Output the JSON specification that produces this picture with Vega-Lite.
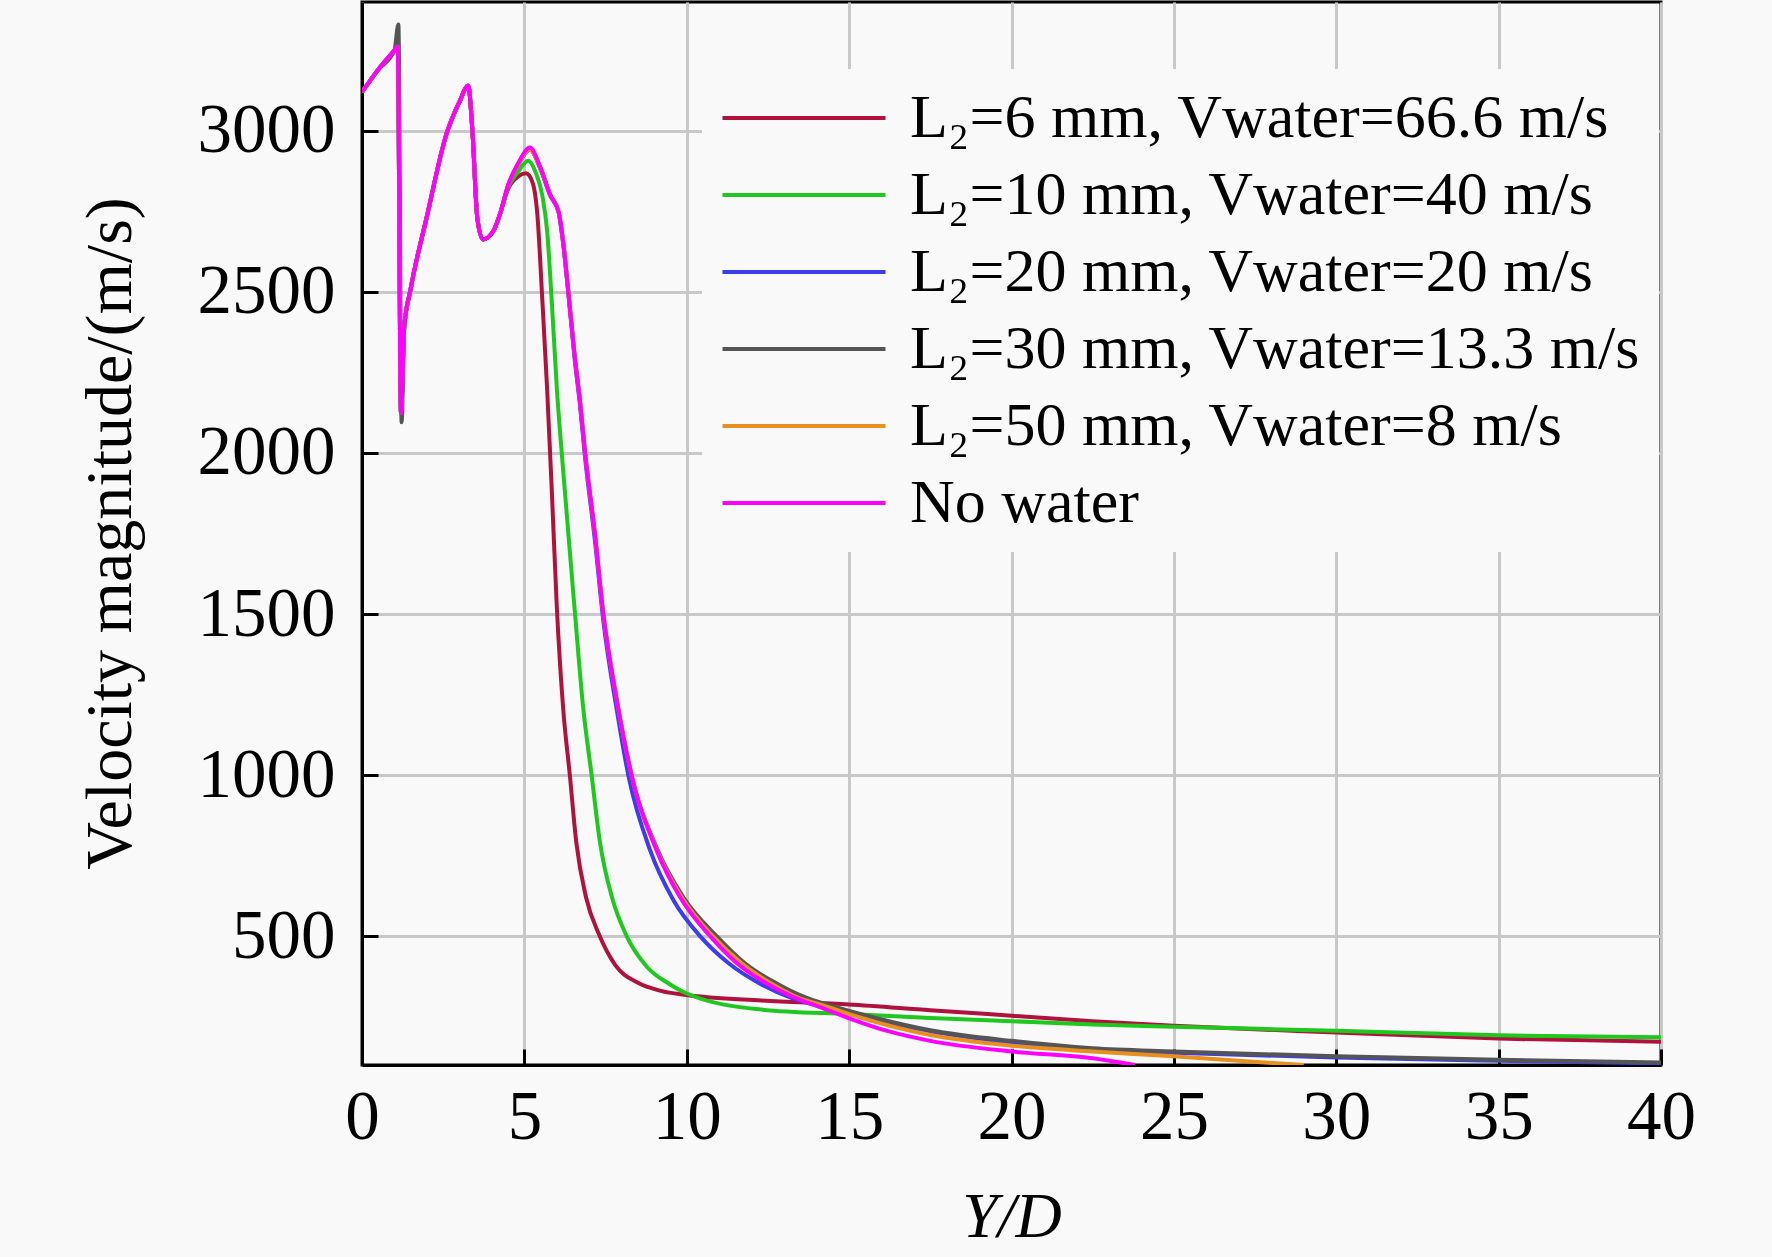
{
  "$schema": "https://vega.github.io/schema/vega-lite/v6.json",
  "width": 1299,
  "height": 1063,
  "autosize": {"type": "none"},
  "padding": {"left": 362, "top": 2, "right": 111, "bottom": 192},
  "background": "#f9f9f9",
  "config": {
    "font": "Liberation Serif",
    "view": {"stroke": "black", "strokeWidth": 3, "fill": "#f9f9f9"},
    "axis": {
      "domainColor": "black",
      "domainWidth": 3,
      "tickColor": "black",
      "tickWidth": 3,
      "tickSize": -16,
      "gridColor": "#c8c8c8",
      "gridWidth": 3,
      "labelColor": "black",
      "labelFont": "Liberation Serif",
      "labelFontSize": 69,
      "titleColor": "black",
      "titleFont": "Liberation Serif",
      "titleFontWeight": "normal"
    }
  },
  "data": {
    "values": [
      {"series": "L₂=6 mm, Vwater=66.6 m/s", "x": 0, "v": 3120},
      {"series": "L₂=6 mm, Vwater=66.6 m/s", "x": 0.5, "v": 3190},
      {"series": "L₂=6 mm, Vwater=66.6 m/s", "x": 1.0, "v": 3250},
      {"series": "L₂=6 mm, Vwater=66.6 m/s", "x": 1.1, "v": 3262},
      {"series": "L₂=6 mm, Vwater=66.6 m/s", "x": 1.2, "v": 2125},
      {"series": "L₂=6 mm, Vwater=66.6 m/s", "x": 1.3, "v": 2390},
      {"series": "L₂=6 mm, Vwater=66.6 m/s", "x": 1.5, "v": 2510},
      {"series": "L₂=6 mm, Vwater=66.6 m/s", "x": 2.0, "v": 2735},
      {"series": "L₂=6 mm, Vwater=66.6 m/s", "x": 2.6, "v": 2990},
      {"series": "L₂=6 mm, Vwater=66.6 m/s", "x": 3.0, "v": 3090},
      {"series": "L₂=6 mm, Vwater=66.6 m/s", "x": 3.27, "v": 3140},
      {"series": "L₂=6 mm, Vwater=66.6 m/s", "x": 3.4, "v": 3000},
      {"series": "L₂=6 mm, Vwater=66.6 m/s", "x": 3.55, "v": 2730},
      {"series": "L₂=6 mm, Vwater=66.6 m/s", "x": 3.72, "v": 2663},
      {"series": "L₂=6 mm, Vwater=66.6 m/s", "x": 4.05, "v": 2690},
      {"series": "L₂=6 mm, Vwater=66.6 m/s", "x": 4.25, "v": 2742},
      {"series": "L₂=6 mm, Vwater=66.6 m/s", "x": 4.5, "v": 2820},
      {"series": "L₂=6 mm, Vwater=66.6 m/s", "x": 4.8, "v": 2858},
      {"series": "L₂=6 mm, Vwater=66.6 m/s", "x": 5.05, "v": 2868},
      {"series": "L₂=6 mm, Vwater=66.6 m/s", "x": 5.25, "v": 2840},
      {"series": "L₂=6 mm, Vwater=66.6 m/s", "x": 5.4, "v": 2740},
      {"series": "L₂=6 mm, Vwater=66.6 m/s", "x": 5.55, "v": 2480},
      {"series": "L₂=6 mm, Vwater=66.6 m/s", "x": 5.7, "v": 2200},
      {"series": "L₂=6 mm, Vwater=66.6 m/s", "x": 5.85, "v": 1870},
      {"series": "L₂=6 mm, Vwater=66.6 m/s", "x": 6.0, "v": 1520},
      {"series": "L₂=6 mm, Vwater=66.6 m/s", "x": 6.2, "v": 1200},
      {"series": "L₂=6 mm, Vwater=66.6 m/s", "x": 6.4, "v": 1000},
      {"series": "L₂=6 mm, Vwater=66.6 m/s", "x": 6.6, "v": 790},
      {"series": "L₂=6 mm, Vwater=66.6 m/s", "x": 6.9, "v": 620},
      {"series": "L₂=6 mm, Vwater=66.6 m/s", "x": 7.3, "v": 505},
      {"series": "L₂=6 mm, Vwater=66.6 m/s", "x": 7.8, "v": 410},
      {"series": "L₂=6 mm, Vwater=66.6 m/s", "x": 8.5, "v": 355},
      {"series": "L₂=6 mm, Vwater=66.6 m/s", "x": 9.2, "v": 330},
      {"series": "L₂=6 mm, Vwater=66.6 m/s", "x": 10, "v": 317},
      {"series": "L₂=6 mm, Vwater=66.6 m/s", "x": 12.3, "v": 300},
      {"series": "L₂=6 mm, Vwater=66.6 m/s", "x": 15, "v": 288},
      {"series": "L₂=6 mm, Vwater=66.6 m/s", "x": 17.5, "v": 270},
      {"series": "L₂=6 mm, Vwater=66.6 m/s", "x": 20, "v": 253},
      {"series": "L₂=6 mm, Vwater=66.6 m/s", "x": 22.5, "v": 236},
      {"series": "L₂=6 mm, Vwater=66.6 m/s", "x": 25, "v": 222},
      {"series": "L₂=6 mm, Vwater=66.6 m/s", "x": 30, "v": 201},
      {"series": "L₂=6 mm, Vwater=66.6 m/s", "x": 35, "v": 182},
      {"series": "L₂=6 mm, Vwater=66.6 m/s", "x": 40, "v": 172},

      {"series": "L₂=10 mm, Vwater=40 m/s", "x": 0, "v": 3120},
      {"series": "L₂=10 mm, Vwater=40 m/s", "x": 0.5, "v": 3190},
      {"series": "L₂=10 mm, Vwater=40 m/s", "x": 1.0, "v": 3250},
      {"series": "L₂=10 mm, Vwater=40 m/s", "x": 1.1, "v": 3262},
      {"series": "L₂=10 mm, Vwater=40 m/s", "x": 1.2, "v": 2125},
      {"series": "L₂=10 mm, Vwater=40 m/s", "x": 1.3, "v": 2390},
      {"series": "L₂=10 mm, Vwater=40 m/s", "x": 1.5, "v": 2510},
      {"series": "L₂=10 mm, Vwater=40 m/s", "x": 2.0, "v": 2735},
      {"series": "L₂=10 mm, Vwater=40 m/s", "x": 2.6, "v": 2990},
      {"series": "L₂=10 mm, Vwater=40 m/s", "x": 3.0, "v": 3090},
      {"series": "L₂=10 mm, Vwater=40 m/s", "x": 3.27, "v": 3140},
      {"series": "L₂=10 mm, Vwater=40 m/s", "x": 3.4, "v": 3000},
      {"series": "L₂=10 mm, Vwater=40 m/s", "x": 3.55, "v": 2730},
      {"series": "L₂=10 mm, Vwater=40 m/s", "x": 3.72, "v": 2663},
      {"series": "L₂=10 mm, Vwater=40 m/s", "x": 4.05, "v": 2690},
      {"series": "L₂=10 mm, Vwater=40 m/s", "x": 4.25, "v": 2742},
      {"series": "L₂=10 mm, Vwater=40 m/s", "x": 4.5, "v": 2825},
      {"series": "L₂=10 mm, Vwater=40 m/s", "x": 4.8, "v": 2872},
      {"series": "L₂=10 mm, Vwater=40 m/s", "x": 5.12, "v": 2907},
      {"series": "L₂=10 mm, Vwater=40 m/s", "x": 5.35, "v": 2870},
      {"series": "L₂=10 mm, Vwater=40 m/s", "x": 5.55, "v": 2800},
      {"series": "L₂=10 mm, Vwater=40 m/s", "x": 5.7, "v": 2690},
      {"series": "L₂=10 mm, Vwater=40 m/s", "x": 5.85, "v": 2460},
      {"series": "L₂=10 mm, Vwater=40 m/s", "x": 6.0, "v": 2200},
      {"series": "L₂=10 mm, Vwater=40 m/s", "x": 6.15, "v": 2000},
      {"series": "L₂=10 mm, Vwater=40 m/s", "x": 6.56, "v": 1500},
      {"series": "L₂=10 mm, Vwater=40 m/s", "x": 6.8, "v": 1220},
      {"series": "L₂=10 mm, Vwater=40 m/s", "x": 7.07, "v": 1000},
      {"series": "L₂=10 mm, Vwater=40 m/s", "x": 7.33, "v": 790},
      {"series": "L₂=10 mm, Vwater=40 m/s", "x": 7.7, "v": 620},
      {"series": "L₂=10 mm, Vwater=40 m/s", "x": 8.15, "v": 500},
      {"series": "L₂=10 mm, Vwater=40 m/s", "x": 8.77, "v": 405},
      {"series": "L₂=10 mm, Vwater=40 m/s", "x": 9.49, "v": 350},
      {"series": "L₂=10 mm, Vwater=40 m/s", "x": 10, "v": 322},
      {"series": "L₂=10 mm, Vwater=40 m/s", "x": 12.3, "v": 272},
      {"series": "L₂=10 mm, Vwater=40 m/s", "x": 15, "v": 258},
      {"series": "L₂=10 mm, Vwater=40 m/s", "x": 17.5, "v": 246},
      {"series": "L₂=10 mm, Vwater=40 m/s", "x": 20, "v": 236},
      {"series": "L₂=10 mm, Vwater=40 m/s", "x": 22.5, "v": 226},
      {"series": "L₂=10 mm, Vwater=40 m/s", "x": 25, "v": 219},
      {"series": "L₂=10 mm, Vwater=40 m/s", "x": 30, "v": 206},
      {"series": "L₂=10 mm, Vwater=40 m/s", "x": 35, "v": 192},
      {"series": "L₂=10 mm, Vwater=40 m/s", "x": 40, "v": 186},

      {"series": "L₂=20 mm, Vwater=20 m/s", "x": 0, "v": 3120},
      {"series": "L₂=20 mm, Vwater=20 m/s", "x": 0.5, "v": 3190},
      {"series": "L₂=20 mm, Vwater=20 m/s", "x": 1.0, "v": 3250},
      {"series": "L₂=20 mm, Vwater=20 m/s", "x": 1.1, "v": 3262},
      {"series": "L₂=20 mm, Vwater=20 m/s", "x": 1.2, "v": 2125},
      {"series": "L₂=20 mm, Vwater=20 m/s", "x": 1.3, "v": 2390},
      {"series": "L₂=20 mm, Vwater=20 m/s", "x": 1.5, "v": 2510},
      {"series": "L₂=20 mm, Vwater=20 m/s", "x": 2.0, "v": 2735},
      {"series": "L₂=20 mm, Vwater=20 m/s", "x": 2.6, "v": 2990},
      {"series": "L₂=20 mm, Vwater=20 m/s", "x": 3.0, "v": 3090},
      {"series": "L₂=20 mm, Vwater=20 m/s", "x": 3.27, "v": 3140},
      {"series": "L₂=20 mm, Vwater=20 m/s", "x": 3.4, "v": 3000},
      {"series": "L₂=20 mm, Vwater=20 m/s", "x": 3.55, "v": 2730},
      {"series": "L₂=20 mm, Vwater=20 m/s", "x": 3.72, "v": 2663},
      {"series": "L₂=20 mm, Vwater=20 m/s", "x": 4.05, "v": 2690},
      {"series": "L₂=20 mm, Vwater=20 m/s", "x": 4.25, "v": 2742},
      {"series": "L₂=20 mm, Vwater=20 m/s", "x": 4.5, "v": 2830},
      {"series": "L₂=20 mm, Vwater=20 m/s", "x": 4.8, "v": 2893},
      {"series": "L₂=20 mm, Vwater=20 m/s", "x": 5.17, "v": 2942},
      {"series": "L₂=20 mm, Vwater=20 m/s", "x": 5.5, "v": 2880},
      {"series": "L₂=20 mm, Vwater=20 m/s", "x": 5.8, "v": 2798},
      {"series": "L₂=20 mm, Vwater=20 m/s", "x": 6.05, "v": 2748},
      {"series": "L₂=20 mm, Vwater=20 m/s", "x": 6.2, "v": 2645},
      {"series": "L₂=20 mm, Vwater=20 m/s", "x": 6.35, "v": 2500},
      {"series": "L₂=20 mm, Vwater=20 m/s", "x": 6.55, "v": 2290},
      {"series": "L₂=20 mm, Vwater=20 m/s", "x": 6.71, "v": 2150},
      {"series": "L₂=20 mm, Vwater=20 m/s", "x": 6.87, "v": 1985},
      {"series": "L₂=20 mm, Vwater=20 m/s", "x": 7.17, "v": 1730},
      {"series": "L₂=20 mm, Vwater=20 m/s", "x": 7.43, "v": 1480},
      {"series": "L₂=20 mm, Vwater=20 m/s", "x": 7.85, "v": 1200},
      {"series": "L₂=20 mm, Vwater=20 m/s", "x": 8.2, "v": 1000},
      {"series": "L₂=20 mm, Vwater=20 m/s", "x": 8.87, "v": 767},
      {"series": "L₂=20 mm, Vwater=20 m/s", "x": 9.6, "v": 610},
      {"series": "L₂=20 mm, Vwater=20 m/s", "x": 10.41, "v": 500},
      {"series": "L₂=20 mm, Vwater=20 m/s", "x": 11.3, "v": 415},
      {"series": "L₂=20 mm, Vwater=20 m/s", "x": 12.3, "v": 350},
      {"series": "L₂=20 mm, Vwater=20 m/s", "x": 13.3, "v": 305},
      {"series": "L₂=20 mm, Vwater=20 m/s", "x": 14.2, "v": 280},
      {"series": "L₂=20 mm, Vwater=20 m/s", "x": 15, "v": 260},
      {"series": "L₂=20 mm, Vwater=20 m/s", "x": 17.5, "v": 205},
      {"series": "L₂=20 mm, Vwater=20 m/s", "x": 20, "v": 170},
      {"series": "L₂=20 mm, Vwater=20 m/s", "x": 22.5, "v": 148},
      {"series": "L₂=20 mm, Vwater=20 m/s", "x": 25, "v": 138},
      {"series": "L₂=20 mm, Vwater=20 m/s", "x": 30, "v": 123},
      {"series": "L₂=20 mm, Vwater=20 m/s", "x": 35, "v": 113},
      {"series": "L₂=20 mm, Vwater=20 m/s", "x": 40, "v": 105},

      {"series": "L₂=30 mm, Vwater=13.3 m/s", "x": 0, "v": 3120},
      {"series": "L₂=30 mm, Vwater=13.3 m/s", "x": 0.5, "v": 3190},
      {"series": "L₂=30 mm, Vwater=13.3 m/s", "x": 1.0, "v": 3250},
      {"series": "L₂=30 mm, Vwater=13.3 m/s", "x": 1.12, "v": 3330},
      {"series": "L₂=30 mm, Vwater=13.3 m/s", "x": 1.22, "v": 2095},
      {"series": "L₂=30 mm, Vwater=13.3 m/s", "x": 1.3, "v": 2390},
      {"series": "L₂=30 mm, Vwater=13.3 m/s", "x": 1.5, "v": 2510},
      {"series": "L₂=30 mm, Vwater=13.3 m/s", "x": 2.0, "v": 2735},
      {"series": "L₂=30 mm, Vwater=13.3 m/s", "x": 2.6, "v": 2990},
      {"series": "L₂=30 mm, Vwater=13.3 m/s", "x": 3.0, "v": 3090},
      {"series": "L₂=30 mm, Vwater=13.3 m/s", "x": 3.27, "v": 3140},
      {"series": "L₂=30 mm, Vwater=13.3 m/s", "x": 3.4, "v": 3000},
      {"series": "L₂=30 mm, Vwater=13.3 m/s", "x": 3.55, "v": 2730},
      {"series": "L₂=30 mm, Vwater=13.3 m/s", "x": 3.72, "v": 2663},
      {"series": "L₂=30 mm, Vwater=13.3 m/s", "x": 4.05, "v": 2690},
      {"series": "L₂=30 mm, Vwater=13.3 m/s", "x": 4.25, "v": 2742},
      {"series": "L₂=30 mm, Vwater=13.3 m/s", "x": 4.5, "v": 2830},
      {"series": "L₂=30 mm, Vwater=13.3 m/s", "x": 4.8, "v": 2893},
      {"series": "L₂=30 mm, Vwater=13.3 m/s", "x": 5.17, "v": 2942},
      {"series": "L₂=30 mm, Vwater=13.3 m/s", "x": 5.5, "v": 2882},
      {"series": "L₂=30 mm, Vwater=13.3 m/s", "x": 5.8, "v": 2800},
      {"series": "L₂=30 mm, Vwater=13.3 m/s", "x": 6.05, "v": 2750},
      {"series": "L₂=30 mm, Vwater=13.3 m/s", "x": 6.2, "v": 2650},
      {"series": "L₂=30 mm, Vwater=13.3 m/s", "x": 6.35, "v": 2504},
      {"series": "L₂=30 mm, Vwater=13.3 m/s", "x": 6.55, "v": 2300},
      {"series": "L₂=30 mm, Vwater=13.3 m/s", "x": 6.71, "v": 2163},
      {"series": "L₂=30 mm, Vwater=13.3 m/s", "x": 6.87, "v": 2000},
      {"series": "L₂=30 mm, Vwater=13.3 m/s", "x": 7.17, "v": 1750},
      {"series": "L₂=30 mm, Vwater=13.3 m/s", "x": 7.43, "v": 1500},
      {"series": "L₂=30 mm, Vwater=13.3 m/s", "x": 7.85, "v": 1230},
      {"series": "L₂=30 mm, Vwater=13.3 m/s", "x": 8.3, "v": 1000},
      {"series": "L₂=30 mm, Vwater=13.3 m/s", "x": 9.07, "v": 775},
      {"series": "L₂=30 mm, Vwater=13.3 m/s", "x": 9.9, "v": 620},
      {"series": "L₂=30 mm, Vwater=13.3 m/s", "x": 10.92, "v": 500},
      {"series": "L₂=30 mm, Vwater=13.3 m/s", "x": 11.8, "v": 415},
      {"series": "L₂=30 mm, Vwater=13.3 m/s", "x": 12.77, "v": 353},
      {"series": "L₂=30 mm, Vwater=13.3 m/s", "x": 13.6, "v": 312},
      {"series": "L₂=30 mm, Vwater=13.3 m/s", "x": 14.3, "v": 288},
      {"series": "L₂=30 mm, Vwater=13.3 m/s", "x": 15, "v": 268},
      {"series": "L₂=30 mm, Vwater=13.3 m/s", "x": 17.5, "v": 208},
      {"series": "L₂=30 mm, Vwater=13.3 m/s", "x": 20, "v": 175},
      {"series": "L₂=30 mm, Vwater=13.3 m/s", "x": 22.5, "v": 152},
      {"series": "L₂=30 mm, Vwater=13.3 m/s", "x": 25, "v": 142},
      {"series": "L₂=30 mm, Vwater=13.3 m/s", "x": 30, "v": 127},
      {"series": "L₂=30 mm, Vwater=13.3 m/s", "x": 35, "v": 116},
      {"series": "L₂=30 mm, Vwater=13.3 m/s", "x": 40, "v": 108},

      {"series": "L₂=50 mm, Vwater=8 m/s", "x": 0, "v": 3120},
      {"series": "L₂=50 mm, Vwater=8 m/s", "x": 0.5, "v": 3190},
      {"series": "L₂=50 mm, Vwater=8 m/s", "x": 1.0, "v": 3250},
      {"series": "L₂=50 mm, Vwater=8 m/s", "x": 1.1, "v": 3262},
      {"series": "L₂=50 mm, Vwater=8 m/s", "x": 1.2, "v": 2125},
      {"series": "L₂=50 mm, Vwater=8 m/s", "x": 1.3, "v": 2390},
      {"series": "L₂=50 mm, Vwater=8 m/s", "x": 1.5, "v": 2510},
      {"series": "L₂=50 mm, Vwater=8 m/s", "x": 2.0, "v": 2735},
      {"series": "L₂=50 mm, Vwater=8 m/s", "x": 2.6, "v": 2990},
      {"series": "L₂=50 mm, Vwater=8 m/s", "x": 3.0, "v": 3090},
      {"series": "L₂=50 mm, Vwater=8 m/s", "x": 3.27, "v": 3140},
      {"series": "L₂=50 mm, Vwater=8 m/s", "x": 3.4, "v": 3000},
      {"series": "L₂=50 mm, Vwater=8 m/s", "x": 3.55, "v": 2730},
      {"series": "L₂=50 mm, Vwater=8 m/s", "x": 3.72, "v": 2663},
      {"series": "L₂=50 mm, Vwater=8 m/s", "x": 4.05, "v": 2690},
      {"series": "L₂=50 mm, Vwater=8 m/s", "x": 4.25, "v": 2742},
      {"series": "L₂=50 mm, Vwater=8 m/s", "x": 4.5, "v": 2830},
      {"series": "L₂=50 mm, Vwater=8 m/s", "x": 4.8, "v": 2893},
      {"series": "L₂=50 mm, Vwater=8 m/s", "x": 5.17, "v": 2942},
      {"series": "L₂=50 mm, Vwater=8 m/s", "x": 5.5, "v": 2882},
      {"series": "L₂=50 mm, Vwater=8 m/s", "x": 5.8, "v": 2800},
      {"series": "L₂=50 mm, Vwater=8 m/s", "x": 6.05, "v": 2750},
      {"series": "L₂=50 mm, Vwater=8 m/s", "x": 6.2, "v": 2650},
      {"series": "L₂=50 mm, Vwater=8 m/s", "x": 6.35, "v": 2504},
      {"series": "L₂=50 mm, Vwater=8 m/s", "x": 6.55, "v": 2300},
      {"series": "L₂=50 mm, Vwater=8 m/s", "x": 6.71, "v": 2163},
      {"series": "L₂=50 mm, Vwater=8 m/s", "x": 6.87, "v": 2000},
      {"series": "L₂=50 mm, Vwater=8 m/s", "x": 7.17, "v": 1750},
      {"series": "L₂=50 mm, Vwater=8 m/s", "x": 7.43, "v": 1500},
      {"series": "L₂=50 mm, Vwater=8 m/s", "x": 7.85, "v": 1230},
      {"series": "L₂=50 mm, Vwater=8 m/s", "x": 8.3, "v": 1000},
      {"series": "L₂=50 mm, Vwater=8 m/s", "x": 9.07, "v": 770},
      {"series": "L₂=50 mm, Vwater=8 m/s", "x": 9.85, "v": 620},
      {"series": "L₂=50 mm, Vwater=8 m/s", "x": 10.8, "v": 500},
      {"series": "L₂=50 mm, Vwater=8 m/s", "x": 11.7, "v": 415},
      {"series": "L₂=50 mm, Vwater=8 m/s", "x": 12.6, "v": 353},
      {"series": "L₂=50 mm, Vwater=8 m/s", "x": 13.4, "v": 310},
      {"series": "L₂=50 mm, Vwater=8 m/s", "x": 14.2, "v": 285},
      {"series": "L₂=50 mm, Vwater=8 m/s", "x": 15, "v": 258},
      {"series": "L₂=50 mm, Vwater=8 m/s", "x": 17.5, "v": 193},
      {"series": "L₂=50 mm, Vwater=8 m/s", "x": 20, "v": 160},
      {"series": "L₂=50 mm, Vwater=8 m/s", "x": 22.5, "v": 142},
      {"series": "L₂=50 mm, Vwater=8 m/s", "x": 25, "v": 127},
      {"series": "L₂=50 mm, Vwater=8 m/s", "x": 27, "v": 113},
      {"series": "L₂=50 mm, Vwater=8 m/s", "x": 29, "v": 100},

      {"series": "No water", "x": 0, "v": 3120},
      {"series": "No water", "x": 0.5, "v": 3190},
      {"series": "No water", "x": 1.0, "v": 3250},
      {"series": "No water", "x": 1.1, "v": 3262},
      {"series": "No water", "x": 1.2, "v": 2125},
      {"series": "No water", "x": 1.3, "v": 2390},
      {"series": "No water", "x": 1.5, "v": 2510},
      {"series": "No water", "x": 2.0, "v": 2735},
      {"series": "No water", "x": 2.6, "v": 2990},
      {"series": "No water", "x": 3.0, "v": 3090},
      {"series": "No water", "x": 3.27, "v": 3140},
      {"series": "No water", "x": 3.4, "v": 3000},
      {"series": "No water", "x": 3.55, "v": 2730},
      {"series": "No water", "x": 3.72, "v": 2663},
      {"series": "No water", "x": 4.05, "v": 2690},
      {"series": "No water", "x": 4.25, "v": 2742},
      {"series": "No water", "x": 4.5, "v": 2832},
      {"series": "No water", "x": 4.8, "v": 2898},
      {"series": "No water", "x": 5.17, "v": 2948},
      {"series": "No water", "x": 5.5, "v": 2885},
      {"series": "No water", "x": 5.8, "v": 2800},
      {"series": "No water", "x": 6.05, "v": 2750},
      {"series": "No water", "x": 6.2, "v": 2650},
      {"series": "No water", "x": 6.35, "v": 2504},
      {"series": "No water", "x": 6.55, "v": 2300},
      {"series": "No water", "x": 6.71, "v": 2163},
      {"series": "No water", "x": 6.87, "v": 2000},
      {"series": "No water", "x": 7.17, "v": 1750},
      {"series": "No water", "x": 7.43, "v": 1500},
      {"series": "No water", "x": 7.85, "v": 1230},
      {"series": "No water", "x": 8.3, "v": 1000},
      {"series": "No water", "x": 9.07, "v": 767},
      {"series": "No water", "x": 9.8, "v": 620},
      {"series": "No water", "x": 10.72, "v": 500},
      {"series": "No water", "x": 11.5, "v": 420},
      {"series": "No water", "x": 12.46, "v": 353},
      {"series": "No water", "x": 13.3, "v": 310},
      {"series": "No water", "x": 14.1, "v": 280},
      {"series": "No water", "x": 15, "v": 245},
      {"series": "No water", "x": 16.2, "v": 205},
      {"series": "No water", "x": 17.5, "v": 175},
      {"series": "No water", "x": 20, "v": 142},
      {"series": "No water", "x": 22.5, "v": 121},
      {"series": "No water", "x": 23.8, "v": 100}
    ]
  },
  "mark": {"type": "line", "strokeWidth": 4, "interpolate": "monotone", "clip": true},
  "encoding": {
    "x": {
      "field": "x",
      "type": "quantitative",
      "scale": {"domain": [0, 40], "nice": false, "zero": false},
      "axis": {
        "title": "Y/D",
        "titleFontStyle": "italic",
        "titleFontSize": 64,
        "titleBaseline": "alphabetic",
        "titleY": 171,
        "values": [0, 5, 10, 15, 20, 25, 30, 35, 40],
        "labelFlush": false,
        "labelPadding": 34
      }
    },
    "y": {
      "field": "v",
      "type": "quantitative",
      "scale": {"domain": [100, 3400], "nice": false, "zero": false},
      "axis": {
        "title": "Velocity magnitude/(m/s)",
        "titleFontSize": 66,
        "titleBaseline": "alphabetic",
        "titleAngle": 270,
        "titleAlign": "center",
        "titleX": -232,
        "titleY": 531,
        "format": "d",
        "values": [500, 1000, 1500, 2000, 2500, 3000],
        "labelPadding": 43
      }
    },
    "color": {
      "field": "series",
      "type": "nominal",
      "scale": {
        "domain": [
          "L₂=6 mm, Vwater=66.6 m/s",
          "L₂=10 mm, Vwater=40 m/s",
          "L₂=20 mm, Vwater=20 m/s",
          "L₂=30 mm, Vwater=13.3 m/s",
          "L₂=50 mm, Vwater=8 m/s",
          "No water"
        ],
        "range": ["#b0123e", "#1ec81e", "#3c3cf0", "#555555", "#e8901e", "#ff00ff"]
      },
      "legend": {
        "title": null,
        "orient": "none",
        "legendX": 340,
        "legendY": 67,
        "padding": 18,
        "fillColor": "#f9f9f9",
        "symbolType": "M-4,0H4",
        "symbolSize": 1660,
        "symbolStrokeWidth": 4,
        "symbolOffset": 53,
        "labelFont": "Liberation Serif",
        "labelFontSize": 62,
        "labelColor": "black",
        "labelLimit": 0,
        "labelOffset": 75,
        "rowPadding": 15
      }
    }
  }
}
